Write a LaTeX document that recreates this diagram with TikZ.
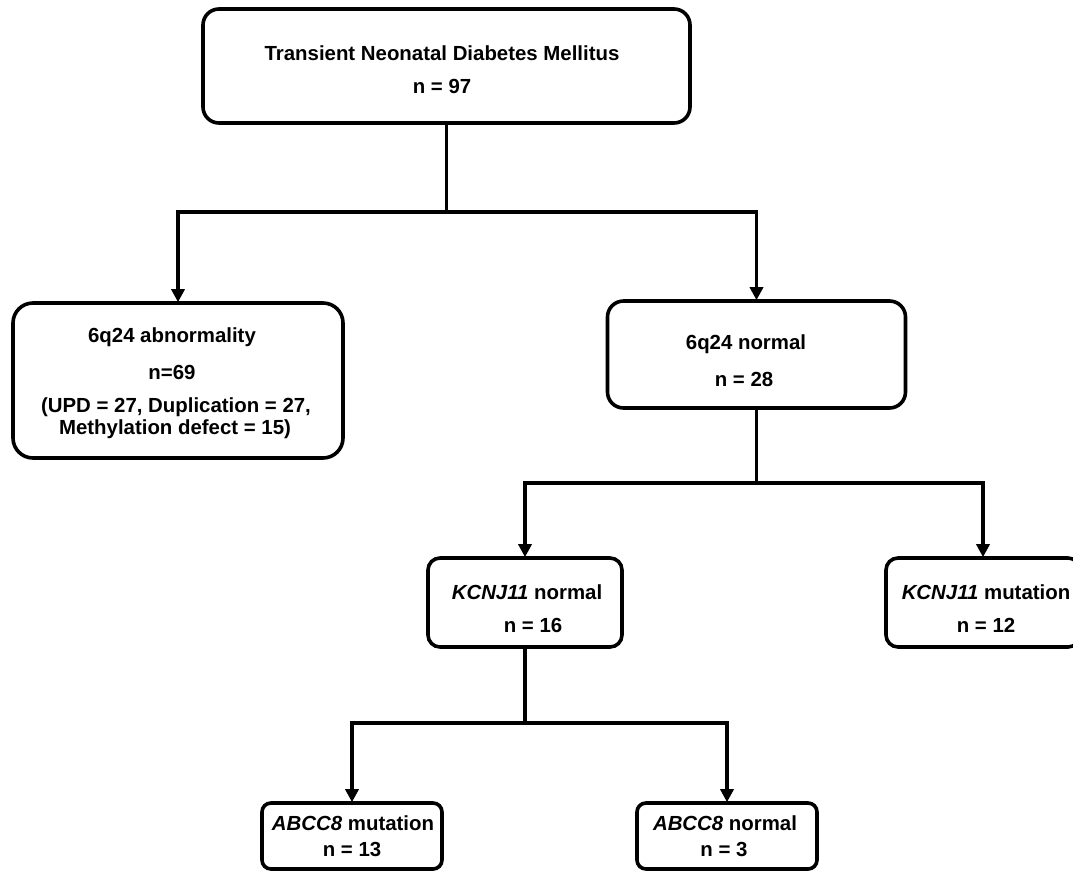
\documentclass[tikz,border=0pt]{standalone}
\usepackage{fontspec}
\setmainfont{Liberation Sans}
\usetikzlibrary{arrows.meta}
\tikzset{
  box/.style={draw=black, line width=3.6pt, fill=white, inner sep=0pt},
  lbl/.style={inner sep=0pt, text height=14.5pt, text depth=0pt, font=\fontsize{20.4}{22}\selectfont\bfseries},
  conn/.style={line width=3.6pt},
  arr/.style={line width=3.6pt, -{Triangle[width=13pt,length=13pt]}, shorten >=-1pt},
}
\begin{document}
\begin{tikzpicture}[x=1pt, y=-1pt]
\useasboundingbox (0,0) rectangle (1073,871);
% boxes
\node[box, rounded corners=16pt, minimum width=487pt, minimum height=114pt] (top) at (446.5,66) {};
\node[box, rounded corners=20pt, minimum width=330pt, minimum height=155pt] (abn) at (178,380.5) {};
\node[box, rounded corners=16pt, minimum width=298pt, minimum height=107pt] (norm) at (756.5,354.5) {};
\node[box, rounded corners=12pt, minimum width=194pt, minimum height=89pt] (kn) at (525,602.5) {};
\node[box, rounded corners=12pt, minimum width=194pt, minimum height=89pt] (km) at (983,602.5) {};
\node[box, rounded corners=9pt, minimum width=180pt, minimum height=66pt] (am) at (352,836) {};
\node[box, rounded corners=9pt, minimum width=180pt, minimum height=66pt] (an) at (727,836) {};
% texts
\node[lbl] (t1) at (442,53) {Transient Neonatal Diabetes Mellitus};
\node[lbl] (t2) at (442,86) {n = 97};
\node[lbl] (a1) at (172,335) {6q24 abnormality};
\node[lbl] (a2) at (172,372) {n=69};
\node[lbl] (a3) at (176,405) {(UPD = 27, Duplication = 27,};
\node[lbl] (a4) at (175,427) {Methylation defect = 15)};
\node[lbl] (n1) at (746,342) {6q24 normal};
\node[lbl] (n2) at (744,379) {n = 28};
\node[lbl] (k1) at (527,592) {\textit{KCNJ11} normal};
\node[lbl] (k2) at (533,625) {n = 16};
\node[lbl] (m1) at (986,592) {\textit{KCNJ11} mutation};
\node[lbl] (m2) at (986,625) {n = 12};
\node[lbl] (b1) at (353,823) {\textit{ABCC8} mutation};
\node[lbl] (b2) at (352,849) {n = 13};
\node[lbl] (c1) at (725,823) {\textit{ABCC8} normal};
\node[lbl] (c2) at (724,849) {n = 3};
% junctions
\coordinate (j1) at (446.5,212);
\coordinate (j2) at (756.5,483);
\coordinate (j3) at (525,723);
% connectors
\draw[conn] (top.south) -- (j1);
\draw[arr] (j1) -| (abn.north);
\draw[arr] (j1) -| (norm.north);
\draw[conn] (norm.south) -- (j2);
\draw[arr] (j2) -| (kn.north);
\draw[arr] (j2) -| (km.north);
\draw[conn] (kn.south) -- (j3);
\draw[arr] (j3) -| (am.north);
\draw[arr] (j3) -| (an.north);
\end{tikzpicture}
\end{document}
